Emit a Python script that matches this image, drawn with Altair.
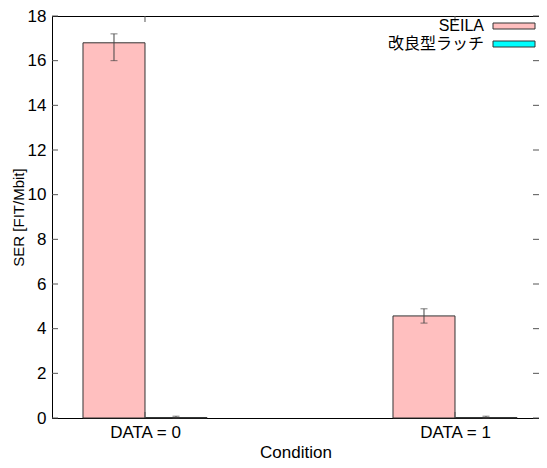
import altair as alt
import pandas as pd

categories = ["DATA = 0", "DATA = 1"]
series = ["SEILA", "改良型ラッチ"]
colors = ["#FFBFBF", "#00FFFF"]
seila_values = [16.8, 4.57]
seila_low = [16.0, 4.25]
seila_high = [17.2, 4.89]
latch_values = [0.02, 0.02]
latch_low = [0.0, 0.0]
latch_high = [0.08, 0.08]
y_ticks = [0, 2, 4, 6, 8, 10, 12, 14, 16, 18]

W, H = 487, 402
FS = 17
FONT = "Liberation Sans, Arial, 'Noto Sans CJK JP', sans-serif"

rows = []
for si, (name, vals, lo, hi) in enumerate([
    (series[0], seila_values, seila_low, seila_high),
    (series[1], latch_values, latch_low, latch_high),
]):
    for ci, cat in enumerate(categories):
        rows.append(dict(category=cat, idx=ci, series=name, sidx=si,
                         value=vals[ci], lo=lo[ci], hi=hi[ci]))
df = pd.DataFrame(rows)

label_expr = "[" + ",".join("'%s'" % c for c in categories) + "][datum.value]"

xscale = alt.Scale(domain=[-0.3, 1.271], nice=False, zero=False)
yscale = alt.Scale(domain=[0, 18], nice=False)

base = alt.Chart(df).transform_calculate(
    x0="datum.idx + (datum.sidx - 1) * 0.2",
    x1="datum.idx + datum.sidx * 0.2",
    xc="datum.idx + (datum.sidx - 0.5) * 0.2",
)

bars = base.mark_bar(stroke="#333333", strokeWidth=1).encode(
    x=alt.X("x0:Q", scale=xscale,
            axis=alt.Axis(values=list(range(len(categories))), labelExpr=label_expr,
                          title="Condition", ticks=False, grid=False,
                          labelPadding=6, titlePadding=4)),
    x2="x1:Q",
    y=alt.Y("value:Q", scale=yscale,
            axis=alt.Axis(values=y_ticks, title="SER [FIT/Mbit]", ticks=False,
                          grid=False, labelPadding=6, titlePadding=1, titleFontSize=15)),
    y2=alt.datum(0),
    color=alt.Color("series:N", scale=alt.Scale(domain=series, range=colors), legend=None),
)

err = base.mark_rule(color="#444444", strokeWidth=1).encode(
    x=alt.X("xc:Q", scale=xscale), y=alt.Y("lo:Q", scale=yscale), y2="hi:Q")
cap_lo = base.mark_tick(color="#444444", orient="horizontal", size=7, thickness=1).encode(
    x=alt.X("xc:Q", scale=xscale), y=alt.Y("lo:Q", scale=yscale))
cap_hi = base.mark_tick(color="#444444", orient="horizontal", size=7, thickness=1).encode(
    x=alt.X("xc:Q", scale=xscale), y=alt.Y("hi:Q", scale=yscale))

ytdf = pd.DataFrame({"t": y_ticks})
yt_left = alt.Chart(ytdf).mark_rule(color="#555555").encode(
    y=alt.Y("t:Q", scale=yscale), x=alt.value(0), x2=alt.value(6))
yt_right = alt.Chart(ytdf).mark_rule(color="#555555").encode(
    y=alt.Y("t:Q", scale=yscale), x=alt.value(W - 6), x2=alt.value(W))
xtdf = pd.DataFrame({"t": list(range(len(categories)))})
xt_top = alt.Chart(xtdf).mark_rule(color="#555555").encode(
    x=alt.X("t:Q", scale=xscale), y=alt.value(0), y2=alt.value(6))
xt_bot = alt.Chart(xtdf).mark_rule(color="#555555").encode(
    x=alt.X("t:Q", scale=xscale), y=alt.value(H - 6), y2=alt.value(H))

legend_layers = []
leg_y = [10, 28]
for i, name in enumerate(series):
    ldf = pd.DataFrame({"series": [name]})
    legend_layers.append(alt.Chart(ldf).mark_text(align="right", baseline="middle",
                                                   fontSize=16, font=FONT, color="#000000").encode(
        x=alt.value(W - 55), y=alt.value(leg_y[i]), text="series:N"))
    legend_layers.append(alt.Chart(ldf).mark_rect(fill=colors[i], stroke="#333333", strokeWidth=1).encode(
        x=alt.value(W - 46), x2=alt.value(W - 4), y=alt.value(leg_y[i] - 3), y2=alt.value(leg_y[i] + 3)))

chart = alt.layer(bars, err, cap_lo, cap_hi, yt_left, yt_right, xt_top, xt_bot,
                  *legend_layers).properties(
    width=W, height=H,
    background="white",
    autosize=alt.AutoSizeParams(type="none"),
    padding={"left": 44, "top": 8, "right": 0, "bottom": 42},
).configure_view(stroke="#000000", strokeWidth=1).configure_axis(
    domainColor="#000000", labelFont=FONT, titleFont=FONT, labelFontSize=FS,
    titleFontSize=FS, labelColor="#000000", titleColor="#000000", titleFontWeight="normal",
)

chart.save("out.html", embed_options={"renderer": "svg", "actions": False})
